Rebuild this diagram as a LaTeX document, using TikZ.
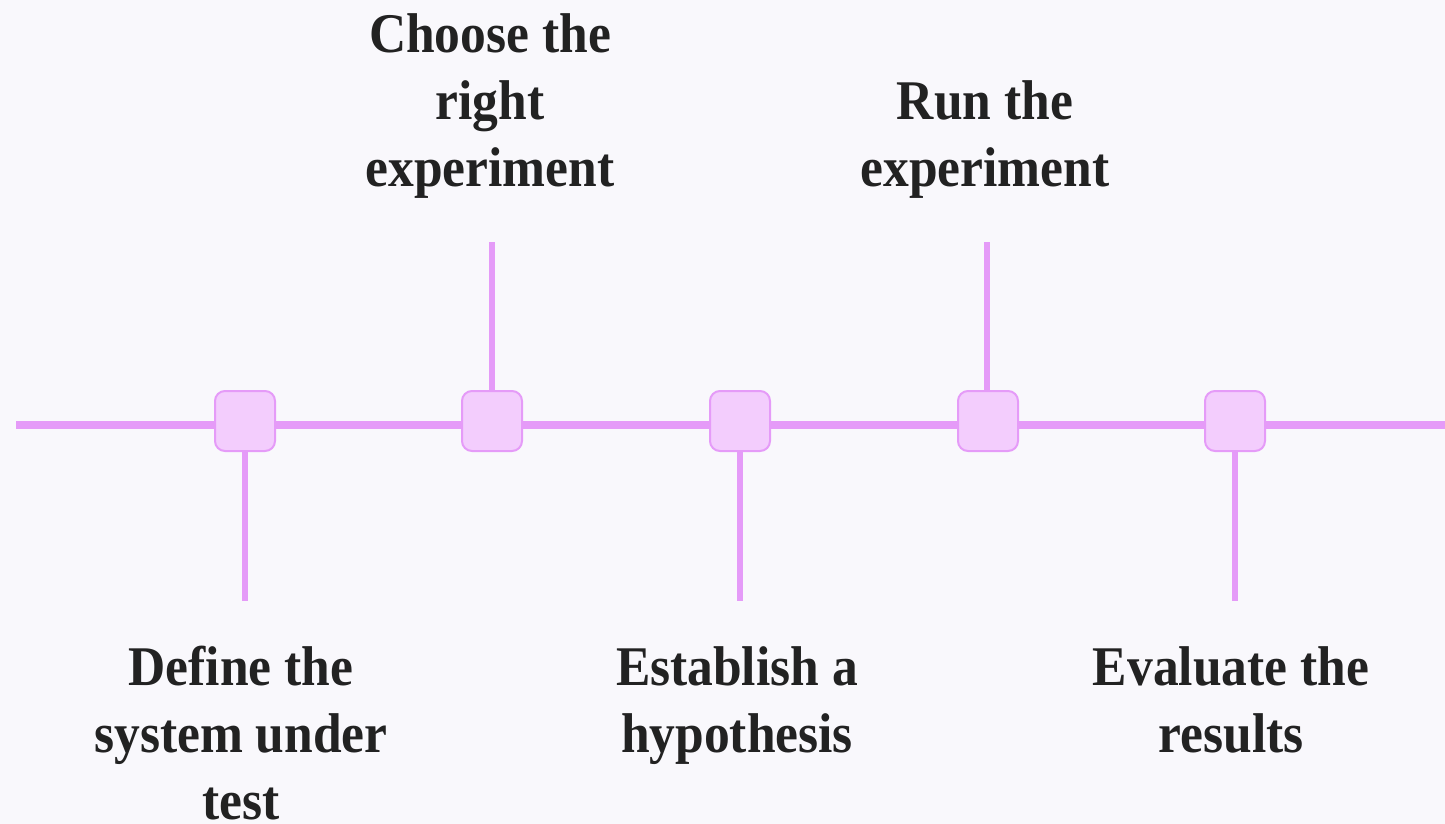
\documentclass[tikz,border=0pt]{standalone}
\usepackage{fontspec}
\setmainfont{Liberation Serif}[FakeStretch=0.92]
\begin{document}
\definecolor{bgc}{HTML}{F9F8FC}
\definecolor{violetline}{HTML}{E59BF8}
\definecolor{boxfill}{HTML}{F3CDFD}
\definecolor{inktext}{HTML}{222222}
\begin{tikzpicture}[x=1pt,y=-1pt,
  stagebox/.style={draw=violetline,line width=2pt,fill=boxfill,rounded corners=10pt,
    minimum width=60pt,minimum height=60pt,inner sep=0pt},
  tick/.style={draw=violetline,line width=6pt},
  axis/.style={draw=violetline,line width=8pt},
  labeltext/.style={anchor=north,align=center,inner sep=0pt,text=inktext,
    font=\fontsize{56}{67}\selectfont\bfseries}]
  % background
  \fill[bgc] (0,0) rectangle (1445,824);
  \useasboundingbox (0,0) rectangle (1445,824);
  % main timeline
  \coordinate (lstart) at (16,425);
  \coordinate (lend) at (1445,425);
  \draw[axis] (lstart) -- (lend);
  % stage markers
  \node[stagebox] (s1) at (245,421) {};
  \node[stagebox] (s2) at (492,421) {};
  \node[stagebox] (s3) at (740,421) {};
  \node[stagebox] (s4) at (988,421) {};
  \node[stagebox] (s5) at (1235,421) {};
  % tick ends
  \coordinate (t1) at (245,601);
  \coordinate (t2) at (492,242);
  \coordinate (t3) at (740,601);
  \coordinate (t4) at (987,242);
  \coordinate (t5) at (1235,601);
  % ticks from the markers
  \draw[tick] (s1.south) -- (t1);
  \draw[tick] (s2.north -| t2) -- (t2);
  \draw[tick] (s3.south) -- (t3);
  \draw[tick] (s4.north -| t4) -- (t4);
  \draw[tick] (s5.south) -- (t5);
  % labels
  \node[labeltext] (l2) at (490,13) {Choose the\\right\\experiment};
  \node[labeltext] (l4) at (985,80) {Run the\\experiment};
  \node[labeltext] (l1) at (241,646) {Define the\\system under\\test};
  \node[labeltext] (l3) at (737,646) {Establish a\\hypothesis};
  \node[labeltext] (l5) at (1231,646) {Evaluate the\\results};
\end{tikzpicture}
\end{document}
